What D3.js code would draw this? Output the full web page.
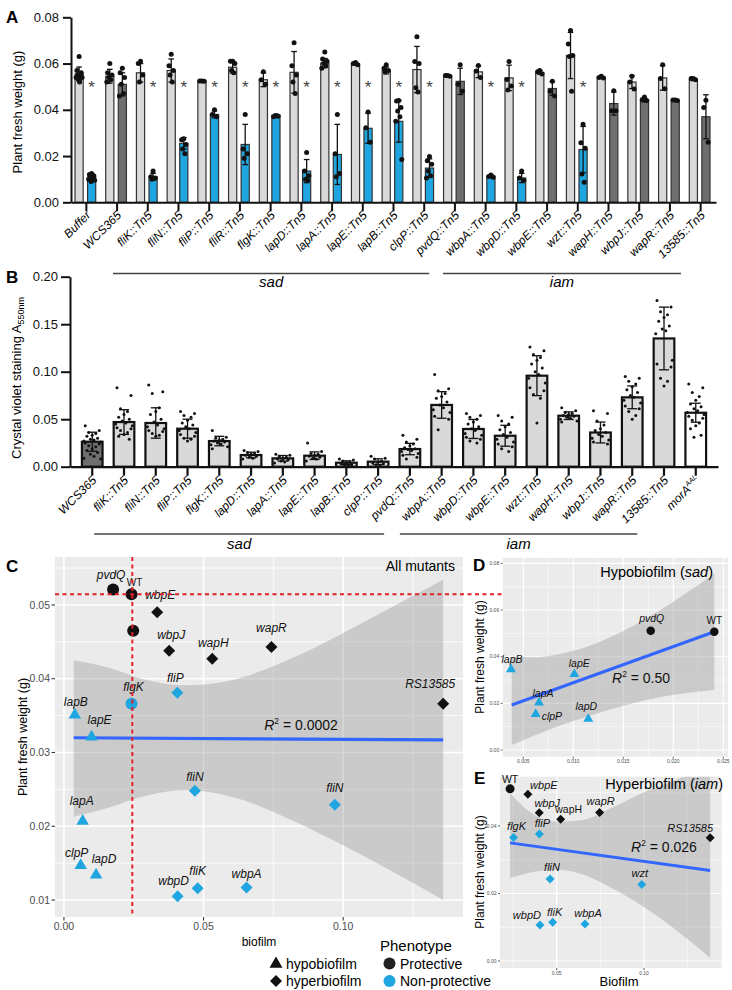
<!DOCTYPE html>
<html>
<head>
<meta charset="utf-8">
<script src="https://cdn.jsdelivr.net/npm/d3@7"></script>
<style>
  body { margin: 0; background: #fff; }
  svg { display: block; font-family: "Liberation Sans", Arial, Helvetica, sans-serif; }
</style>
</head>
<body>
<script>
// ---------------- data: panel A (plant fresh weight) ----------------
var aStrains = ["Buffer","WCS365","fliK::Tn5","fliN::Tn5","fliP::Tn5","fliR::Tn5","flgK::Tn5","lapD::Tn5","lapA::Tn5","lapE::Tn5","lapB::Tn5","clpP::Tn5","pvdQ::Tn5","wbpA::Tn5","wbpD::Tn5","wbpE::Tn5","wzt::Tn5","wapH::Tn5","wbpJ::Tn5","wapR::Tn5","13585::Tn5"];
var aCtrlMean = [0.0555,0.0545,0.056,0.057,0.0524,0.0584,0.053,0.0562,0.0602,0.0598,0.057,0.0574,0.0545,0.0564,0.0538,0.0562,0.0635,0.054,0.052,0.0538,0.053];
var aCtrlSd = [0.003,0.003,0.004,0.005,0.0003,0.0025,0.003,0.009,0.002,0.0005,0.0015,0.01,0.0003,0.0025,0.0055,0.0008,0.01,0.0004,0.0028,0.0053,0.0004];
var aCtrlDots = [
  [0.063,0.057,0.056,0.055,0.055,0.054,0.054,0.053,0.052],
  [0.06,0.056,0.055,0.054,0.053,0.052],
  [0.061,0.06,0.055,0.052],
  [0.064,0.059,0.057,0.055,0.052],
  [0.0525,0.0525,0.0523],
  [0.061,0.061,0.06,0.057,0.056],
  [0.0565,0.053,0.051],
  [0.069,0.059,0.055,0.052,0.047],
  [0.065,0.062,0.061,0.06,0.059,0.058],
  [0.0605,0.06,0.0595],
  [0.0595,0.058,0.057,0.0565],
  [0.0716,0.0609,0.06,0.0495,0.0477],
  [0.0548,0.0548,0.0545],
  [0.0592,0.0568,0.054],
  [0.0609,0.0531,0.0503,0.0486],
  [0.057,0.0565,0.0555],
  [0.0743,0.0685,0.0635,0.063,0.048],
  [0.0545,0.054,0.0538],
  [0.0545,0.052,0.049],
  [0.0595,0.0535,0.0491],
  [0.0535,0.0535,0.053]
];
var aInfMean = [0.011,0.051,0.011,0.0255,0.038,0.025,0.0377,0.0135,0.0207,0.032,0.035,0.0148,0.0523,0.0113,0.0105,0.0492,0.0228,0.0427,0.0442,0.0441,0.037];
var aInfSd = [0.001,0.005,0.0015,0.0025,0.0015,0.0087,0.0004,0.005,0.013,0.0065,0.009,0.004,0.0057,0.0005,0.002,0.003,0.01,0.005,0.0008,0.0003,0.0095];
var aInfDots = [
  [0.0125,0.012,0.0115,0.011,0.0105,0.01,0.0095,0.009],
  [0.058,0.056,0.054,0.051,0.047,0.046],
  [0.0135,0.011,0.0105,0.01],
  [0.0275,0.027,0.025,0.023,0.021],
  [0.04,0.038,0.037],
  [0.038,0.023,0.021,0.019],
  [0.0375,0.037,0.0372],
  [0.0215,0.0135,0.0115,0.01,0.0095],
  [0.038,0.021,0.0125,0.011],
  [0.039,0.0322,0.026],
  [0.044,0.0438,0.041,0.0395,0.037,0.035,0.0185],
  [0.0198,0.018,0.0165,0.0135,0.0115,0.0105],
  [0.0595,0.051,0.048],
  [0.0118,0.0112,0.0108],
  [0.0135,0.0105,0.0095],
  [0.0523,0.048,0.046],
  [0.0337,0.0257,0.0234,0.0122,0.0087],
  [0.0482,0.0396,0.0396],
  [0.0455,0.0445,0.044],
  [0.0442,0.0442,0.044],
  [0.0441,0.041,0.026]
];
// 1 = significant loss of protection (blue bar with asterisk)
var aSignificant = [1,0,1,1,1,1,1,1,1,1,1,1,0,1,1,0,1,0,0,0,0];
var aTicks = [0, 0.02, 0.04, 0.06, 0.08];

// ---------------- data: panel B (crystal violet biofilm) ----------------
var bStrains = ["WCS365","fliK::Tn5","fliN::Tn5","fliP::Tn5","flgK::Tn5","lapD::Tn5","lapA::Tn5","lapE::Tn5","lapB::Tn5","clpP::Tn5","pvdQ::Tn5","wbpA::Tn5","wbpD::Tn5","wbpE::Tn5","wzt::Tn5","wapH::Tn5","wbpJ::Tn5","wapR::Tn5","13585::Tn5","morA"];
var bMean = [0.0263,0.047,0.046,0.040,0.027,0.0123,0.0088,0.0116,0.0042,0.0053,0.0186,0.065,0.0397,0.0326,0.0958,0.0537,0.036,0.073,0.135,0.0568];
var bSd = [0.01,0.013,0.016,0.01,0.005,0.003,0.003,0.004,0.002,0.003,0.006,0.014,0.01,0.011,0.021,0.004,0.011,0.012,0.033,0.01];
var bDots = [
  [0.043,0.038,0.036,0.035,0.033,0.032,0.030,0.029,0.028,0.027,0.026,0.025,0.024,0.022,0.021,0.019,0.017,0.015,0.013,0.011,0.009,0.008],
  [0.083,0.075,0.061,0.058,0.055,0.052,0.05,0.048,0.046,0.045,0.043,0.041,0.04,0.038,0.036,0.034,0.032,0.029],
  [0.086,0.079,0.077,0.062,0.058,0.055,0.05,0.047,0.044,0.042,0.04,0.038,0.037,0.035,0.033,0.032],
  [0.058,0.056,0.054,0.052,0.049,0.046,0.044,0.042,0.04,0.038,0.036,0.034,0.032,0.03,0.029,0.027],
  [0.038,0.031,0.03,0.029,0.028,0.027,0.026,0.025,0.024,0.023,0.021,0.019],
  [0.017,0.016,0.015,0.014,0.013,0.012,0.011,0.01,0.009,0.008],
  [0.013,0.012,0.011,0.01,0.009,0.008,0.007,0.006,0.005,0.004],
  [0.025,0.016,0.014,0.013,0.012,0.011,0.01,0.009,0.008,0.006],
  [0.008,0.007,0.006,0.005,0.004,0.003,0.002,0.002,0.001],
  [0.011,0.009,0.008,0.006,0.005,0.004,0.003,0.002,0.001],
  [0.033,0.029,0.026,0.024,0.022,0.02,0.019,0.018,0.017,0.016,0.014,0.012,0.01,0.008],
  [0.097,0.082,0.08,0.077,0.074,0.072,0.068,0.065,0.062,0.06,0.057,0.053,0.05,0.039],
  [0.056,0.054,0.052,0.05,0.047,0.045,0.042,0.04,0.038,0.035,0.033,0.031,0.029,0.027,0.025],
  [0.054,0.052,0.048,0.045,0.042,0.039,0.036,0.034,0.031,0.029,0.026,0.024,0.021,0.019,0.016],
  [0.126,0.122,0.118,0.115,0.112,0.108,0.104,0.1,0.097,0.093,0.088,0.083,0.08,0.076,0.072,0.046],
  [0.062,0.059,0.057,0.056,0.055,0.054,0.053,0.052,0.051,0.05,0.048,0.047],
  [0.059,0.056,0.048,0.044,0.04,0.038,0.036,0.034,0.032,0.03,0.028,0.026,0.024],
  [0.095,0.093,0.09,0.087,0.084,0.081,0.078,0.075,0.073,0.07,0.067,0.064,0.061,0.058,0.054,0.05],
  [0.175,0.168,0.163,0.16,0.157,0.153,0.148,0.145,0.143,0.14,0.112,0.108,0.105,0.093,0.09,0.085],
  [0.087,0.083,0.078,0.074,0.07,0.066,0.063,0.061,0.059,0.057,0.055,0.053,0.051,0.049,0.046,0.043,0.04,0.033,0.031]
];
var bKind = ["wt","mut","mut","mut","mut","mut","mut","mut","mut","mut","mut","mut","mut","mut","mut","mut","mut","mut","mut","allele"];
var bTicks = [0, 0.05, 0.10, 0.15, 0.20];

// ---------------- data: panel C (all mutants) ----------------
var cNames = ["WT","pvdQ","","wbpE","wbpJ","wapH","wapR","RS13585","fliP","flgK","lapB","lapE","fliN","fliN","lapA","clpP","lapD","wbpD","fliK","wbpA"];
var cBiofilm = [0.0242,0.0176,0.0248,0.0334,0.0377,0.0531,0.0743,0.1358,0.0406,0.0242,0.0039,0.0099,0.0469,0.097,0.0067,0.006,0.0115,0.0407,0.0479,0.0654];
var cWeight = [0.05145,0.0521,0.0465,0.049,0.0438,0.0427,0.0443,0.0366,0.0381,0.0366,0.0351,0.0321,0.0248,0.0229,0.0207,0.0147,0.0134,0.0105,0.0116,0.0117];
var cShape = ["circle","circle","circle","diamond","diamond","diamond","diamond","diamond","diamond","circle","triangle","triangle","diamond","diamond","triangle","triangle","triangle","diamond","diamond","diamond"];
var cProtective = [1,1,1,1,1,1,1,1,0,0,0,0,0,0,0,0,0,0,0,0];
var cFitX = [0.0035, 0.1358], cFitY = [0.0320, 0.0317];
var cBandX  = [0.0035,0.015,0.03,0.044,0.06,0.08,0.097,0.115,0.1358];
var cBandLo = [0.0213,0.0224,0.0242,0.0249,0.0240,0.0211,0.0180,0.0144,0.0100];
var cBandHi = [0.0425,0.0416,0.0398,0.0391,0.0398,0.0425,0.0456,0.0492,0.0534];
var cWT = [0.0245, 0.05145];
var cR2 = "0.0002";

// ---------------- data: panel D (hypobiofilm) ----------------
var dNames = ["lapB","lapE","lapA","clpP","lapD","pvdQ","WT"];
var dBiofilm = [0.00377,0.0101,0.00657,0.00624,0.0115,0.01774,0.0241];
var dWeight = [0.0346,0.0325,0.0203,0.0154,0.0133,0.0511,0.0507];
var dShape = ["triangle","triangle","triangle","triangle","triangle","circle","circle"];
var dProtective = [0,0,0,0,0,1,1];
var dFitX = [0.00384, 0.0241], dFitY = [0.0193, 0.0507];
var dBandX  = [0.00384,0.006,0.009,0.0115,0.015,0.0185,0.0241];
var dBandLo = [0.0021,0.0060,0.0110,0.0145,0.0190,0.0225,0.0257];
var dBandHi = [0.0400,0.0398,0.0415,0.0445,0.0510,0.0595,0.0757];
var dR2 = "0.50";

// ---------------- data: panel E (hyperbiofilm) ----------------
var eNames = ["WT","wbpE","wbpJ","wapH","wapR","RS13585","flgK","fliP","fliN","wzt","wbpD","fliK","wbpA"];
var eBiofilm = [0.0233,0.0335,0.0400,0.0523,0.0746,0.1379,0.0253,0.0401,0.0462,0.0987,0.0404,0.0477,0.0662];
var eWeight = [0.0510,0.0494,0.0439,0.0420,0.0440,0.0365,0.0366,0.0376,0.0243,0.0227,0.0107,0.0115,0.0110];
var eShape = ["circle","diamond","diamond","diamond","diamond","diamond","diamond","diamond","diamond","diamond","diamond","diamond","diamond"];
var eProtective = [1,1,1,1,1,1,0,0,0,0,0,0,0];
var eFitX = [0.0233, 0.1379], eFitY = [0.0350, 0.0268];
var eBandX  = [0.0233,0.035,0.05,0.065,0.08,0.10,0.12,0.1379];
var eBandLo = [0.0245,0.0262,0.0270,0.0256,0.0220,0.0160,0.0085,0.0009];
var eBandHi = [0.0497,0.0440,0.0413,0.0418,0.0450,0.0500,0.0540,0.0580];
var eR2 = "0.026";

// ---------------- layout / style ----------------
var BLUE = "#1fa6e0", LIGHT = "#d9d9d9", DARK = "#6f6f6f";
var svg = d3.select("body").append("svg").attr("width", 732).attr("height", 990);

function styleAxis(sel, w) {
  sel.selectAll("path, line").attr("stroke", "#111").attr("stroke-width", w);
  sel.selectAll("text").attr("fill", "#111").attr("font-family", "inherit");
}
function panelLetter(t, x, y) {
  svg.append("text").attr("x", x).attr("y", y).attr("font-size", 17).attr("font-weight", "bold").text(t);
}
function errBar(g, cx, y, mean, sd, cap) {
  var top = y(mean + sd), bot = y(Math.max(0, mean - sd));
  g.append("line").attr("x1", cx).attr("x2", cx).attr("y1", top).attr("y2", bot).attr("stroke", "#111").attr("stroke-width", 1.3);
  g.append("line").attr("x1", cx - cap).attr("x2", cx + cap).attr("y1", top).attr("y2", top).attr("stroke", "#111").attr("stroke-width", 1.3);
  g.append("line").attr("x1", cx - cap).attr("x2", cx + cap).attr("y1", bot).attr("y2", bot).attr("stroke", "#111").attr("stroke-width", 1.3);
}

// ---------------- Panel A ----------------
var aX = d3.scaleBand().domain(aStrains).range([71, 716]);
var aSub = d3.scaleBand().domain(["ctrl", "inf"]).range([4, aX.bandwidth() - 6]).paddingInner(0.35);
var aY = d3.scaleLinear().domain([0, 0.08]).range([202.3, 17.3]);
var gA = svg.append("g");
var aJit = [0, -2.2, 2.2, -1.1, 1.1, -3, 3, -0.5, 0.5];

aStrains.forEach(function(s, i) {
  var x0 = aX(s), bw = aSub.bandwidth();
  var xc = x0 + aSub("ctrl"), xi = x0 + aSub("inf");
  gA.append("rect").attr("x", xc).attr("y", aY(aCtrlMean[i])).attr("width", bw)
    .attr("height", aY(0) - aY(aCtrlMean[i])).attr("fill", LIGHT).attr("stroke", "#333").attr("stroke-width", 1.2);
  gA.append("rect").attr("x", xi).attr("y", aY(aInfMean[i])).attr("width", bw)
    .attr("height", aY(0) - aY(aInfMean[i])).attr("fill", aSignificant[i] ? BLUE : DARK).attr("stroke", "#333").attr("stroke-width", 1.2);
  errBar(gA, xc + bw / 2, aY, aCtrlMean[i], aCtrlSd[i], 2.8);
  errBar(gA, xi + bw / 2, aY, aInfMean[i], aInfSd[i], 2.8);
  gA.selectAll(null).data(aCtrlDots[i]).enter().append("circle")
    .attr("cx", function(d, j) { return xc + bw / 2 + aJit[j % aJit.length]; })
    .attr("cy", function(d) { return aY(d); }).attr("r", 2.5).attr("fill", "#111");
  gA.selectAll(null).data(aInfDots[i]).enter().append("circle")
    .attr("cx", function(d, j) { return xi + bw / 2 + aJit[j % aJit.length]; })
    .attr("cy", function(d) { return aY(d); }).attr("r", 2.5).attr("fill", "#111");
  if (aSignificant[i]) {
    gA.append("text").attr("x", xi + bw / 2).attr("y", 93).attr("text-anchor", "middle")
      .attr("font-size", 17).attr("fill", "#444").text("*");
  }
});

var aLeft = gA.append("g").attr("transform", "translate(71,0)")
  .call(d3.axisLeft(aY).tickValues(aTicks).tickFormat(d3.format(".2f")).tickSize(8).tickPadding(4).tickSizeOuter(0));
styleAxis(aLeft, 2);
aLeft.selectAll("text").attr("font-size", 13);
var aBottom = gA.append("g").attr("transform", "translate(0," + aY(0) + ")")
  .call(d3.axisBottom(aX).tickSize(9).tickSizeOuter(0).tickFormat(""));
styleAxis(aBottom, 2);
aStrains.forEach(function(s) {
  gA.append("text").attr("transform", "translate(" + (aX(s) + aX.bandwidth() / 2 + 5) + ",216) rotate(-45)")
    .attr("text-anchor", "end").attr("font-size", 12).attr("font-style", "italic").text(s);
});
gA.append("text").attr("transform", "translate(22,112) rotate(-90)").attr("text-anchor", "middle")
  .attr("font-size", 13).text("Plant fresh weight (g)");

function groupLine(g, x1, x2, y, label, ty) {
  g.append("line").attr("x1", x1).attr("x2", x2).attr("y1", y).attr("y2", y).attr("stroke", "#444").attr("stroke-width", 1.6);
  g.append("text").attr("x", (x1 + x2) / 2).attr("y", ty).attr("text-anchor", "middle")
    .attr("font-size", 15).attr("font-style", "italic").text(label);
}
var aC = function(s) { return aX(s) + aX.bandwidth() / 2; };
groupLine(gA, aC("WCS365") - 4, aC("clpP::Tn5") + 5, 273.5, "sad", 287);
groupLine(gA, aC("pvdQ::Tn5") - 12, aC("wapR::Tn5") + 11, 273.5, "iam", 287);
panelLetter("A", 6, 23);

// ---------------- Panel B ----------------
var bX = d3.scaleBand().domain(bStrains).range([70, 718]).paddingOuter(0.2);
var bY = d3.scaleLinear().domain([0, 0.2]).range([466.7, 276.7]);
var gB = svg.append("g");
var bJit = [-7, 7, -3.5, 3.5, 0, -5.3, 5.3, -1.8, 1.8, -8.3, 8.3];
var bBar = bX.bandwidth() * 0.65;

bStrains.forEach(function(s, i) {
  var cx = bX(s) + bX.bandwidth() / 2;
  var fill = bKind[i] === "wt" ? DARK : (bKind[i] === "allele" ? "#fff" : LIGHT);
  gB.append("rect").attr("x", cx - bBar / 2).attr("y", bY(bMean[i])).attr("width", bBar)
    .attr("height", bY(0) - bY(bMean[i])).attr("fill", fill).attr("stroke", "#111").attr("stroke-width", 2.2);
  gB.selectAll(null).data(bDots[i]).enter().append("circle")
    .attr("cx", function(d, j) { return cx + bJit[j % bJit.length]; })
    .attr("cy", function(d) { return bY(d); }).attr("r", 1.5).attr("fill", "#111");
  errBar(gB, cx, bY, bMean[i], bSd[i], 5);
});

var bLeft = gB.append("g").attr("transform", "translate(70,0)")
  .call(d3.axisLeft(bY).tickValues(bTicks).tickFormat(d3.format(".2f")).tickSize(9).tickPadding(3).tickSizeOuter(0));
styleAxis(bLeft, 2);
bLeft.selectAll("text").attr("font-size", 13);
var bBottom = gB.append("g").attr("transform", "translate(0," + bY(0) + ")")
  .call(d3.axisBottom(bX).tickSize(9).tickSizeOuter(0).tickFormat(""));
styleAxis(bBottom, 2.2);
bStrains.forEach(function(s) {
  var t = gB.append("text").attr("transform", "translate(" + (bX(s) + bX.bandwidth() / 2 + 5) + ",481) rotate(-45)")
    .attr("text-anchor", "end").attr("font-size", 12).attr("font-style", "italic");
  if (s === "morA") {
    t.append("tspan").text("morA");
    t.append("tspan").attr("font-size", 7).attr("dy", -5).text("AAL");
  } else {
    t.text(s);
  }
});
var bT = gB.append("text").attr("transform", "translate(21,378) rotate(-90)").attr("text-anchor", "middle").attr("font-size", 13);
bT.append("tspan").text("Crystal violet staining A");
bT.append("tspan").attr("font-size", 9).attr("dy", 3).text("550nm");
var bC = function(s) { return bX(s) + bX.bandwidth() / 2; };
groupLine(gB, bC("WCS365") + 2, bC("clpP::Tn5") + 6, 534, "sad", 549);
groupLine(gB, bC("pvdQ::Tn5") - 10, bC("wapR::Tn5") + 5, 534, "iam", 549);
panelLetter("B", 6, 283);

// ---------------- scatter panels (C, D, E) ----------------
function shapePath(shape, size) {
  if (shape === "circle") return d3.symbol(d3.symbolCircle, Math.PI * size * size / 4)();
  if (shape === "triangle") return d3.symbol(d3.symbolTriangle, Math.sqrt(3) / 4 * size * size)();
  return d3.symbol(d3.symbolSquare, size * size / 2)();
}
function drawShape(g, shape, x, y, size, color) {
  g.append("path").attr("d", shapePath(shape, size))
    .attr("transform", "translate(" + x + "," + y + ")" + (shape === "diamond" ? " rotate(45)" : ""))
    .attr("fill", color);
}

function scatterPanel(p) {
  var x = d3.scaleLinear().domain(p.xDomain).range([p.left, p.right]);
  var y = d3.scaleLinear().domain(p.yDomain).range([p.bottom, p.top]);
  var g = svg.append("g");
  svg.append("clipPath").attr("id", "clip" + p.id).append("rect")
    .attr("x", p.left).attr("y", p.top).attr("width", p.right - p.left).attr("height", p.bottom - p.top);
  g.append("rect").attr("x", p.left).attr("y", p.top).attr("width", p.right - p.left)
    .attr("height", p.bottom - p.top).attr("fill", "#ebebeb");
  var grid = g.append("g");
  p.xMinor.forEach(function(v) {
    grid.append("line").attr("x1", x(v)).attr("x2", x(v)).attr("y1", p.top).attr("y2", p.bottom)
      .attr("stroke", "#fff").attr("stroke-width", p.gridW / 2);
  });
  p.yMinor.forEach(function(v) {
    grid.append("line").attr("y1", y(v)).attr("y2", y(v)).attr("x1", p.left).attr("x2", p.right)
      .attr("stroke", "#fff").attr("stroke-width", p.gridW / 2);
  });
  p.xTicks.forEach(function(v) {
    grid.append("line").attr("x1", x(v)).attr("x2", x(v)).attr("y1", p.top).attr("y2", p.bottom)
      .attr("stroke", "#fff").attr("stroke-width", p.gridW);
  });
  p.yTicks.forEach(function(v) {
    grid.append("line").attr("y1", y(v)).attr("y2", y(v)).attr("x1", p.left).attr("x2", p.right)
      .attr("stroke", "#fff").attr("stroke-width", p.gridW);
  });
  var inner = g.append("g").attr("clip-path", "url(#clip" + p.id + ")");
  var band = p.bandX.map(function(v, i) { return [v, p.bandLo[i], p.bandHi[i]]; });
  inner.append("path").datum(band)
    .attr("d", d3.area().x(function(d) { return x(d[0]); }).y0(function(d) { return y(d[1]); })
      .y1(function(d) { return y(d[2]); }).curve(d3.curveMonotoneX))
    .attr("fill", "#999").attr("fill-opacity", 0.4);
  inner.append("path").datum(p.fitX.map(function(v, i) { return [v, p.fitY[i]]; }))
    .attr("d", d3.line().x(function(d) { return x(d[0]); }).y(function(d) { return y(d[1]); }))
    .attr("stroke", "#3366ff").attr("stroke-width", p.fitW).attr("fill", "none");
  var pts = g.append("g");
  p.px.forEach(function(v, i) {
    drawShape(pts, p.shape[i], x(v), y(p.py[i]), p.symSize[p.shape[i]], p.prot[i] ? "#111" : BLUE);
  });
  p.names.forEach(function(n, i) {
    if (!n) return;
    var nd = p.nudge[i];
    var plain = p.plain.indexOf(n) >= 0;
    pts.append("text").attr("x", x(p.px[i]) + nd[0]).attr("y", y(p.py[i]) + nd[1])
      .attr("text-anchor", nd[2] || "middle").attr("font-size", plain ? p.plainSize : p.labelSize)
      .attr("font-style", plain ? "normal" : "italic").attr("fill", "#111").text(n);
  });
  // axis ticks and labels
  var ax = g.append("g").attr("fill", "#4d4d4d").attr("font-size", p.tickFont);
  p.yTicks.forEach(function(v) {
    ax.append("line").attr("x1", p.left - p.tickLen).attr("x2", p.left).attr("y1", y(v)).attr("y2", y(v))
      .attr("stroke", "#333").attr("stroke-width", p.gridW / 1.5);
    ax.append("text").attr("x", p.left - p.tickLen - 1.5).attr("y", y(v)).attr("dy", "0.35em")
      .attr("text-anchor", "end").text(p.yFmt(v));
  });
  p.xTicks.forEach(function(v) {
    ax.append("line").attr("y1", p.bottom).attr("y2", p.bottom + p.tickLen).attr("x1", x(v)).attr("x2", x(v))
      .attr("stroke", "#333").attr("stroke-width", p.gridW / 1.5);
    ax.append("text").attr("x", x(v)).attr("y", p.bottom + p.tickLen + p.tickFont * 0.95)
      .attr("text-anchor", "middle").text(p.xFmt(v));
  });
  return { x: x, y: y, g: g };
}

function r2Text(g, x, y, val, size) {
  var t = g.append("text").attr("x", x).attr("y", y).attr("text-anchor", "middle").attr("font-size", size).attr("fill", "#111");
  t.append("tspan").attr("font-style", "italic").text("R");
  t.append("tspan").attr("font-size", size * 0.6).attr("dy", -size * 0.4).text("2");
  t.append("tspan").attr("dy", size * 0.4).text(" = " + val);
}

// ---- Panel C ----
var cNudge = [[3,-8],[-2,-10],[0,0],[3,-13],[2,-12],[1,-12],[0,-15],[-13,-16],[-2,-11],[2,-13],
              [1,-9],[8,-13],[0,-10],[0,-13],[-1,-16],[-4,-8],[8,-12],[-4,-11],[0,-13],[0,-9]];
var C = scatterPanel({
  id: "C", left: 55, right: 463, top: 557, bottom: 917,
  xDomain: [-0.0032, 0.1429], yDomain: [0.0077, 0.0565],
  xTicks: [0, 0.05, 0.10], xMinor: [0.025, 0.075, 0.125],
  yTicks: [0.01, 0.02, 0.03, 0.04, 0.05], yMinor: [0.015, 0.025, 0.035, 0.045, 0.055],
  gridW: 1.6, tickLen: 3.5, tickFont: 10.5,
  xFmt: d3.format(".2f"), yFmt: d3.format(".2f"),
  bandX: cBandX, bandLo: cBandLo, bandHi: cBandHi, fitX: cFitX, fitY: cFitY, fitW: 3.2,
  px: cBiofilm, py: cWeight, shape: cShape, prot: cProtective, names: cNames,
  symSize: { circle: 12, diamond: 12, triangle: 12.5 },
  nudge: cNudge, plain: ["WT"], labelSize: 12, plainSize: 10
});
// red WT reference lines
C.g.append("line").attr("x1", C.x(cWT[0])).attr("x2", C.x(cWT[0])).attr("y1", 557).attr("y2", 917)
  .attr("stroke", "#e0202a").attr("stroke-width", 2).attr("stroke-dasharray", "4,3.5");
C.g.append("line").attr("x1", 55).attr("x2", 503).attr("y1", C.y(cWT[1])).attr("y2", C.y(cWT[1]))
  .attr("stroke", "#e0202a").attr("stroke-width", 2).attr("stroke-dasharray", "4,3.5");
r2Text(C.g, 301, 730, cR2, 14);
C.g.append("text").attr("x", 455).attr("y", 571).attr("text-anchor", "end").attr("font-size", 14).text("All mutants");
C.g.append("text").attr("x", 259).attr("y", 946).attr("text-anchor", "middle").attr("font-size", 12).text("biofilm");
C.g.append("text").attr("transform", "translate(27,737) rotate(-90)").attr("text-anchor", "middle")
  .attr("font-size", 12.5).text("Plant fresh weight (g)");
panelLetter("C", 6, 572);

// legend
var lg = svg.append("g");
drawShape(lg, "triangle", 276, 964, 13, "#111");
drawShape(lg, "diamond", 276, 981, 12, "#111");
lg.append("text").attr("x", 286).attr("y", 969).attr("font-size", 14).text("hypobiofilm");
lg.append("text").attr("x", 286).attr("y", 986).attr("font-size", 14).text("hyperbiofilm");
lg.append("text").attr("x", 380).attr("y", 951).attr("font-size", 15).text("Phenotype");
drawShape(lg, "circle", 389.5, 963.5, 12, "#222");
drawShape(lg, "circle", 389.5, 981, 12, BLUE);
lg.append("text").attr("x", 400).attr("y", 969).attr("font-size", 14).text("Protective");
lg.append("text").attr("x", 400).attr("y", 986).attr("font-size", 14).text("Non-protective");

// ---- Panel D ----
var dNudge = [[1,-6],[5,-7],[4,-6],[6,6,"start"],[-2,-9],[1,-9],[0,-8]];
var D = scatterPanel({
  id: "D", left: 502.7, right: 728, top: 558, bottom: 756.7,
  xDomain: [0.00294, 0.02547], yDomain: [-0.00287, 0.0823],
  xTicks: [0.005, 0.010, 0.015, 0.020, 0.025], xMinor: [0.0075, 0.0125, 0.0175, 0.0225],
  yTicks: [0, 0.02, 0.04, 0.06, 0.08], yMinor: [0.01, 0.03, 0.05, 0.07],
  gridW: 1.1, tickLen: 2, tickFont: 5,
  xFmt: d3.format(".3f"), yFmt: d3.format(".2f"),
  bandX: dBandX, bandLo: dBandLo, bandHi: dBandHi, fitX: dFitX, fitY: dFitY, fitW: 3,
  px: dBiofilm, py: dWeight, shape: dShape, prot: dProtective, names: dNames,
  symSize: { circle: 8.5, diamond: 9, triangle: 10 },
  nudge: dNudge, plain: ["WT"], labelSize: 10.5, plainSize: 10
});
r2Text(D.g, 641, 683, dR2, 14);
var dT = D.g.append("text").attr("x", 713).attr("y", 577).attr("text-anchor", "end").attr("font-size", 14.5);
dT.append("tspan").text("Hypobiofilm (");
dT.append("tspan").attr("font-style", "italic").text("sad");
dT.append("tspan").text(")");
D.g.append("text").attr("transform", "translate(484,657) rotate(-90)").attr("text-anchor", "middle")
  .attr("font-size", 12).text("Plant fresh weight (g)");
panelLetter("D", 473, 571);

// ---- Panel E ----
var eNudge = [[0,-6],[16,-5],[8,-6],[8,-6],[1,-7],[-20,-6],[3,-7],[3,-7.5],[2,-8],[-2,-7],[-13,-6],[2,-6],[3,-7]];
var E = scatterPanel({
  id: "E", left: 500, right: 721.7, top: 776.7, bottom: 968,
  xDomain: [0.01753, 0.1445], yDomain: [-0.00207, 0.0546],
  xTicks: [0.05, 0.10], xMinor: [0.025, 0.075, 0.125],
  yTicks: [0, 0.02, 0.04], yMinor: [0.01, 0.03, 0.05],
  gridW: 1.2, tickLen: 2, tickFont: 5,
  xFmt: d3.format(".2f"), yFmt: d3.format(".2f"),
  bandX: eBandX, bandLo: eBandLo, bandHi: eBandHi, fitX: eFitX, fitY: eFitY, fitW: 3,
  px: eBiofilm, py: eWeight, shape: eShape, prot: eProtective, names: eNames,
  symSize: { circle: 9, diamond: 9, triangle: 10 },
  nudge: eNudge, plain: ["WT", "wapH"], labelSize: 11, plainSize: 10.5
});
r2Text(E.g, 664, 852, eR2, 14);
var eT = E.g.append("text").attr("x", 723).attr("y", 789).attr("text-anchor", "end").attr("font-size", 14.5);
eT.append("tspan").text("Hyperbiofilm (");
eT.append("tspan").attr("font-style", "italic").text("iam");
eT.append("tspan").text(")");
E.g.append("text").attr("x", 619).attr("y", 986).attr("text-anchor", "middle").attr("font-size", 13).text("Biofilm");
E.g.append("text").attr("transform", "translate(484,872) rotate(-90)").attr("text-anchor", "middle")
  .attr("font-size", 12).text("Plant fresh weight (g)");
panelLetter("E", 474, 784);
</script>
</body>
</html>
